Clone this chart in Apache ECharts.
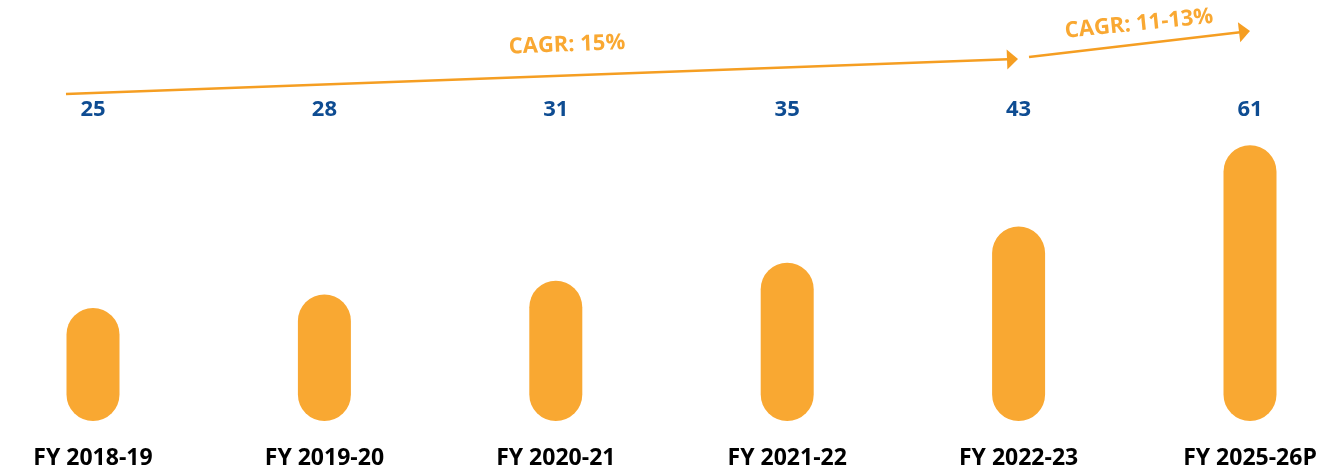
<!DOCTYPE html>
<html lang="en">
<head>
    <meta charset="UTF-8">
    <title>CAGR chart</title>
    <script src="https://cdn.jsdelivr.net/npm/echarts@6/dist/echarts.min.js"></script>
    <style>
        html, body { margin: 0; padding: 0; background: #fff; }
        #box { width: 1342px; height: 473px; }
    </style>
</head>
<body>
<div id="box"></div>
<script>
    // categories and values
    var years = ["FY 2018-19", "FY 2019-20", "FY 2020-21", "FY 2021-22", "FY 2022-23", "FY 2025-26P"];
    var values = [25, 28, 31, 35, 43, 61];
    var cagrTexts = ["CAGR: 15%", "CAGR: 11-13%"];

    var orange = "#F9A832";
    var arrowColor = "#F59E22";
    var deg = Math.PI / 180;

    var myChart = echarts.init(document.getElementById("box"));

    // arrow = line + triangle head
    function arrow(x1, y1, x2, y2) {
        var ang = Math.atan2(y2 - y1, x2 - x1);
        var len = 11, half = 10;
        var bx = x2 - len * Math.cos(ang), by = y2 - len * Math.sin(ang);
        var nx = -Math.sin(ang), ny = Math.cos(ang);
        return [
            {
                type: "line",
                shape: { x1: x1, y1: y1, x2: bx + 1 * Math.cos(ang), y2: by + 1 * Math.sin(ang) },
                style: { stroke: arrowColor, lineWidth: 2.5 }
            },
            {
                type: "polygon",
                shape: { points: [[x2, y2], [bx + nx * half, by + ny * half], [bx - nx * half, by - ny * half]] },
                style: { fill: arrowColor }
            }
        ];
    }

    var graphics = [].concat(
        arrow(66, 94, 1018, 59),
        arrow(1029, 57, 1250, 31),
        [
            {
                type: "text", x: 567, y: 45, rotation: 2.1 * deg,
                style: { text: cagrTexts[0], fill: orange, font: "bold 22px 'Open Sans'", align: "center", verticalAlign: "middle" }
            },
            {
                type: "text", x: 1139, y: 24, rotation: 5.8 * deg,
                style: { text: cagrTexts[1], fill: orange, font: "bold 22px 'Open Sans'", align: "center", verticalAlign: "middle" }
            }
        ]
    );

    var option = {
        animation: false,
        grid: { left: 93, right: 92, top: 133, bottom: 52 },
        xAxis: [
            {
                type: "category",
                data: years,
                boundaryGap: false,
                axisLine: { show: false },
                axisTick: { show: false },
                axisLabel: {
                    margin: 26,
                    color: "#000",
                    fontFamily: "Open Sans",
                    fontWeight: "bold",
                    fontSize: 23
                }
            },
            {
                type: "category",
                position: "top",
                data: values.map(String),
                boundaryGap: false,
                axisLine: { show: false },
                axisTick: { show: false },
                axisLabel: {
                    margin: 12,
                    color: "#0E4C92",
                    fontFamily: "Open Sans",
                    fontWeight: "bold",
                    fontSize: 22
                }
            }
        ],
        yAxis: {
            type: "value",
            min: 0,
            max: 63.7,
            show: false,
            splitLine: { show: false }
        },
        series: [{
            type: "bar",
            data: values,
            barWidth: 53,
            itemStyle: { color: orange, borderRadius: 27 }
        }],
        graphic: graphics
    };

    myChart.setOption(option);
</script>
</body>
</html>
